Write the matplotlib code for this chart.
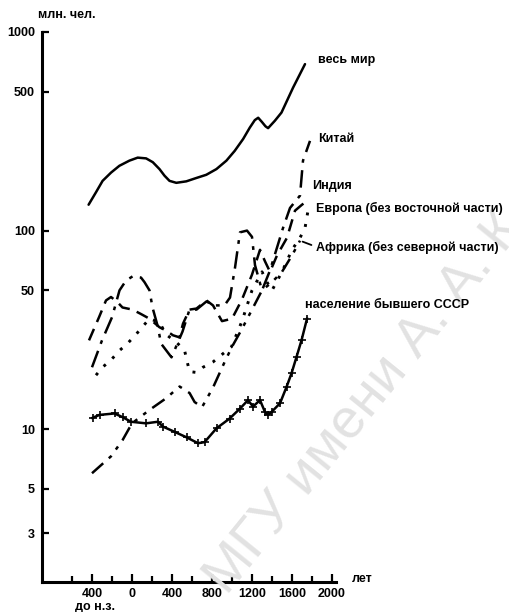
import matplotlib
matplotlib.use("Agg")
import matplotlib.pyplot as plt
from matplotlib.ticker import FixedLocator, NullFormatter, NullLocator

plt.rcParams['font.family'] = ['Liberation Sans', 'DejaVu Sans']

# ---------------- data (year, million people) ----------------
world_years = [-434, -360, -294, -209, -126, -26, 57, 141, 208, 275, 325, 375, 443, 543, 643, 743, 844, 944,
               1027, 1111, 1178, 1228, 1262, 1300, 1335, 1361, 1428, 1495, 1611, 1730]
world_vals = [135, 156, 178, 196, 212, 225, 233, 231, 221, 204, 189, 178, 174, 177, 184, 191, 204, 225,
              252, 289, 330, 360, 370, 352, 335, 328, 357, 393, 525, 689]

china_years = [-400, -300, -200, -125, -60, 10, 90, 125, 175, 205, 260, 290, 395, 505, 575, 645, 745, 810,
               925, 980, 1030, 1080, 1150, 1200, 1230, 1300, 1380, 1510, 1580, 1680, 1710, 1780]
china_vals = [20.5, 28, 36.6, 50, 56, 59, 58, 55, 50, 41, 32.6, 27, 23, 31, 40, 40, 44, 42,
              42, 46, 65, 98, 100, 93, 67, 50, 63, 103, 130, 150, 225, 283]

india_years = [-430, -330, -260, -210, -145, -95, 5, 90, 175, 275, 340, 410, 475, 510, 575, 645, 745, 810,
               900, 1000, 1100, 1200, 1280, 1330, 1380, 1450, 1550, 1630, 1700, 1750]
india_vals = [28, 36.6, 44.5, 46.3, 43.6, 41, 40, 38, 36, 32.6, 31.4, 29.7, 29, 34, 40, 40.5, 44.5, 42,
              35, 36, 45, 60, 80, 70, 62, 75, 92, 126, 135, 141]

europe_years = [-360, -295, -210, -125, -45, 40, 110, 175, 275, 340, 440, 525, 575, 645, 710, 810, 910, 995,
                1100, 1200, 1300, 1350, 1400, 1500, 1600, 1680, 1730, 1760, 1800]
europe_vals = [18.7, 20.5, 22.3, 24.9, 27, 30, 33, 36, 34.5, 30, 27.5, 25, 19.5, 19.3, 20.5, 21.8, 24, 26,
               35, 50, 62, 55, 50, 62, 80, 92, 103, 126, 134]

africa_years = [-400, -210, -95, 0, 175, 340, 476, 576, 626, 700, 810, 930, 1000, 1100, 1200, 1300, 1400,
                1500, 1600, 1680]
africa_vals = [6.0, 7.3, 8.8, 10.7, 12.5, 14.3, 16.4, 15.2, 13.7, 12.9, 16.2, 22, 26, 32, 40, 50, 55,
               62, 75, 89]

ussr_years = [-395, -325, -175, -95, -10, 140, 260, 310, 425, 545, 660, 725, 845, 975, 1080, 1160, 1210,
              1280, 1330, 1360, 1395, 1480, 1545, 1595, 1645, 1695, 1750]
ussr_vals = [11.4, 11.8, 12.0, 11.5, 10.9, 10.7, 10.9, 10.3, 9.7, 9.1, 8.5, 8.6, 10.1, 11.3, 12.7, 14.0, 13.0,
             14.0, 12.2, 11.8, 12.2, 13.5, 16.3, 19.1, 23.1, 28, 36]

y_ticks = [3, 5, 10, 50, 100, 500, 1000]
y_ticklabels = ['3', '5', '10', '50', '100', '500', '1000']
x_major = [-400, 0, 400, 800, 1200, 1600, 2000]
x_major_labels = ['400', '0', '400', '800', '1200', '1600', '2000']
x_minor = [-600, -200, 200, 600, 1000, 1400, 1800]

labels = {
    'world': 'весь мир',
    'china': 'Китай',
    'india': 'Индия',
    'europe': 'Европа (без восточной части)',
    'africa': 'Африка (без северной части)',
    'ussr': 'население бывшего СССР',
}

# ---------------- figure ----------------
W, H = 509, 612
fig = plt.figure(figsize=(W / 100, H / 100), dpi=100)

def fx(px):
    return px / W

def fy(py):
    return 1 - py / H

# watermark (as in the scanned source)
fig.text(fx(236), fy(603), 'МГУ имени А. А. К', rotation=51, rotation_mode='anchor',
         ha='left', va='bottom', fontsize=40, color='#e2e2e2', zorder=0)

ax = fig.add_axes([fx(42), fy(582), fx(336) - fx(42), fy(32) - fy(582)])
ax.patch.set_alpha(0)
ax.set_yscale('log')
ax.set_xlim(-900, 2040)
ax.set_ylim(1.7, 1000)

k = 'black'
ax.plot(world_years, world_vals, color=k, lw=1.8, solid_capstyle='round', solid_joinstyle='round')
ax.plot(china_years, china_vals, color=k, lw=1.8, linestyle=(0, (7, 3, 1.5, 3)))
ax.plot(india_years, india_vals, color=k, lw=1.8, linestyle=(0, (5, 3)))
ax.plot(europe_years, europe_vals, color=k, lw=2.1, linestyle=(0, (1, 3)))
ax.plot(africa_years, africa_vals, color=k, lw=1.8, linestyle=(0, (6, 3, 1.5, 3, 1.5, 3)))
ax.plot(ussr_years, ussr_vals, color=k, lw=1.8, marker='+', markersize=6, markeredgewidth=1.2)

# axes styling
for s in ['top', 'right']:
    ax.spines[s].set_visible(False)
for s in ['left', 'bottom']:
    ax.spines[s].set_linewidth(2.2)

ax.yaxis.set_major_locator(FixedLocator(y_ticks))
ax.yaxis.set_minor_locator(NullLocator())
ax.set_yticklabels(y_ticklabels, fontweight='bold')
ax.xaxis.set_major_locator(FixedLocator(x_major))
ax.xaxis.set_minor_locator(FixedLocator(x_minor))
ax.set_xticklabels(x_major_labels, fontweight='bold')
ax.xaxis.set_minor_formatter(NullFormatter())

ax.tick_params(axis='y', which='major', direction='in', length=5, width=1.6, labelsize=9, pad=5)
ax.tick_params(axis='x', which='major', direction='in', length=6, width=1.6, labelsize=9, pad=4)
ax.tick_params(axis='x', which='minor', direction='in', length=4, width=1.6)

fs = 9
fw = 'bold'
fig.text(fx(95), fy(607), 'до н.з.', ha='center', va='center', fontsize=fs, fontweight=fw)
fig.text(fx(352), fy(579), 'лет', ha='left', va='center', fontsize=fs, fontweight=fw)
fig.text(fx(38), fy(15), 'млн. чел.', ha='left', va='center', fontsize=fs, fontweight=fw)

fig.text(fx(318), fy(60), labels['world'], ha='left', va='center', fontsize=fs, fontweight=fw)
fig.text(fx(318), fy(139), labels['china'], ha='left', va='center', fontsize=fs, fontweight=fw)
fig.text(fx(312), fy(186), labels['india'], ha='left', va='center', fontsize=fs, fontweight=fw)
fig.text(fx(316), fy(208), labels['europe'], ha='left', va='center', fontsize=fs, fontweight=fw)
fig.text(fx(316), fy(247), labels['africa'], ha='left', va='center', fontsize=fs, fontweight=fw)
fig.text(fx(305), fy(305), labels['ussr'], ha='left', va='center', fontsize=fs, fontweight=fw)

# leader line to Africa label
ax.annotate('', xy=(africa_years[-1], africa_vals[-1]), xycoords='data',
            xytext=(fx(314), fy(246)), textcoords='figure fraction',
            arrowprops=dict(arrowstyle='-', color=k, lw=1.3))

fig.savefig('out.png', dpi=100)
